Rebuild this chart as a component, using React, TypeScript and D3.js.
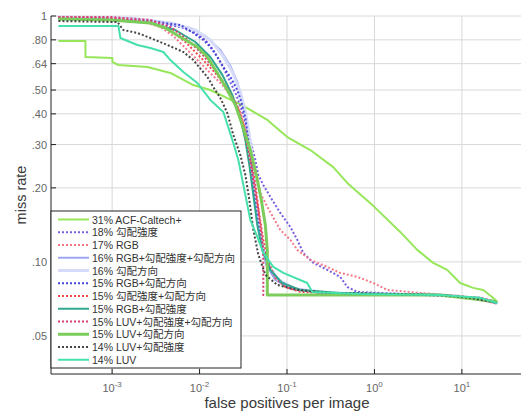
import React from "react";
import * as d3 from "d3";

const W = 521;
const H = 412;

const xTicks = [1e-3, 1e-2, 1e-1, 1, 10];
const xTickExps = ["-3", "-2", "-1", "0", "1"];
const yTicks = [0.05, 0.1, 0.2, 0.3, 0.4, 0.5, 0.64, 0.8, 1];
const yTickLabels = [".05", ".10", ".20", ".30", ".40", ".50", ".64", ".80", "1"];

const seriesNames = [
  "31% ACF-Caltech+",
  "18% 勾配強度",
  "17% RGB",
  "16% RGB+勾配強度+勾配方向",
  "16% 勾配方向",
  "15% RGB+勾配方向",
  "15% 勾配強度+勾配方向",
  "15% RGB+勾配強度",
  "15% LUV+勾配強度+勾配方向",
  "15% LUV+勾配方向",
  "14% LUV+勾配強度",
  "14% LUV",
];

type Pt = [number, number]; // [fppi, miss rate]

const acfCaltech: Pt[] = [
  [2.433e-4, 0.791], [4.954e-4, 0.791], [4.954e-4, 0.681], [1.008e-3, 0.675], [1.008e-3, 0.65],
  [1.18e-3, 0.632], [2.532e-3, 0.62], [4.637e-3, 0.5865], [8.49e-3, 0.524], [0.01328, 0.5],
  [0.02704, 0.443], [0.03807, 0.415], [0.05955, 0.378], [0.1008, 0.322], [0.1846, 0.285],
  [0.3381, 0.243], [0.4888, 0.2095], [0.969, 0.169], [1.972, 0.1324], [3.084, 0.1119],
  [4.699, 0.0991], [6.792, 0.0928], [9.563, 0.0821], [13.46, 0.0784], [17.52, 0.0769],
  [22.19, 0.072], [25.32, 0.0688],
];

const gradMag: Pt[] = [
  [2.433e-4, 0.9815], [7.35e-4, 0.972], [1.618e-3, 0.954], [3.565e-3, 0.928], [6.035e-3, 0.902],
  [8.95e-3, 0.853], [0.01165, 0.799], [0.01438, 0.727], [0.01729, 0.65], [0.02134, 0.56],
  [0.02634, 0.477], [0.03167, 0.396], [0.03807, 0.313], [0.04342, 0.26], [0.04699, 0.226],
  [0.05359, 0.2056], [0.06443, 0.1837], [0.08381, 0.1582], [0.1091, 0.1388], [0.1312, 0.1229],
  [0.1536, 0.1088], [0.1998, 0.0991], [0.2888, 0.0928], [0.4065, 0.0869], [0.4888, 0.0791],
  [0.6359, 0.0755], [1.972, 0.0741], [9.563, 0.0727], [16.19, 0.0701], [25.32, 0.0681],
];

const rgb: Pt[] = [
  [2.433e-4, 0.991], [7.35e-4, 0.9815], [2.106e-3, 0.954], [3.565e-3, 0.902], [5.018e-3, 0.829],
  [6.53e-3, 0.755], [8.49e-3, 0.688], [0.01105, 0.626], [0.01438, 0.57], [0.01871, 0.519],
  [0.02434, 0.4555], [0.02926, 0.407], [0.03338, 0.344], [0.03807, 0.2852], [0.04342, 0.2366],
  [0.04953, 0.1908], [0.05955, 0.1673], [0.08381, 0.1349], [0.1091, 0.1229], [0.1312, 0.1119],
  [0.1846, 0.1019], [0.2888, 0.0954], [0.4065, 0.0902], [0.6359, 0.0869], [0.9689, 0.0821],
  [1.401, 0.0769], [3.338, 0.0748], [9.563, 0.0727], [16.19, 0.0701], [25.32, 0.0675],
];

const rgbMagOri: Pt[] = [
  [2.433e-4, 0.991], [1.244e-3, 0.9815], [3.565e-3, 0.945], [7.85e-3, 0.894], [0.01165, 0.829],
  [0.01729, 0.727], [0.02249, 0.626], [0.02704, 0.539], [0.03167, 0.4345], [0.03519, 0.3605],
  [0.03807, 0.2852], [0.04119, 0.2154], [0.04457, 0.1627], [0.04953, 0.1229], [0.058, 0.0972],
  [0.07349, 0.0845], [0.1091, 0.0777], [0.2403, 0.0748], [5.649, 0.0734], [16.19, 0.0707],
  [25.32, 0.0681],
];

const gradOri: Pt[] = [
  [2.433e-4, 0.991], [1.618e-3, 0.9815], [4.637e-3, 0.937], [8.95e-3, 0.877], [0.01328, 0.799],
  [0.01823, 0.694], [0.02371, 0.592], [0.02926, 0.491], [0.03338, 0.407], [0.03708, 0.328],
  [0.04012, 0.26], [0.04342, 0.196], [0.04699, 0.148], [0.0522, 0.117], [0.06114, 0.0972],
  [0.07952, 0.0845], [0.1244, 0.0777], [0.3125, 0.0748], [5.649, 0.0734], [16.19, 0.0707],
  [25.32, 0.0681],
];

const rgbOri: Pt[] = [
  [2.433e-4, 0.9815], [9.56e-4, 0.972], [2.74e-3, 0.954], [6.035e-3, 0.919], [8.49e-3, 0.853],
  [0.01105, 0.799], [0.01328, 0.748], [0.01598, 0.681], [0.01871, 0.62], [0.02249, 0.565],
  [0.02704, 0.5], [0.03004, 0.447], [0.03338, 0.385], [0.03612, 0.313], [0.03908, 0.248],
  [0.04229, 0.187], [0.04699, 0.141], [0.05359, 0.112], [0.06443, 0.0928], [0.08381, 0.0829],
  [0.1244, 0.0777], [0.2403, 0.0748], [1.972, 0.0741], [16.19, 0.0714], [25.32, 0.0681],
];

const magOri: Pt[] = [
  [2.433e-4, 0.991], [9.56e-4, 0.9815], [2.74e-3, 0.945], [4.637e-3, 0.877], [6.88e-3, 0.784],
  [0.01021, 0.681], [0.01516, 0.5865], [0.02134, 0.5], [0.02776, 0.4226], [0.03338, 0.344],
  [0.03807, 0.272], [0.04342, 0.2056], [0.04824, 0.1552], [0.05359, 0.1229], [0.06114, 0.1],
  [0.07349, 0.0861], [0.09563, 0.0791], [0.1419, 0.0755], [0.5289, 0.0741], [5.649, 0.0734],
  [16.19, 0.0707], [25.32, 0.0681],
];

const rgbMag: Pt[] = [
  [2.433e-4, 0.972], [9.56e-4, 0.963], [2.74e-3, 0.937], [5.288e-3, 0.877], [8.95e-3, 0.784],
  [0.01328, 0.681], [0.01823, 0.576], [0.02371, 0.477], [0.02926, 0.385], [0.03338, 0.313],
  [0.03708, 0.248], [0.04119, 0.187], [0.04577, 0.141], [0.0522, 0.112], [0.06443, 0.0928],
  [0.08836, 0.0821], [0.1419, 0.0769], [0.4065, 0.0748], [5.649, 0.0734], [16.19, 0.0707],
  [25.32, 0.0681],
];

const luvMagOri: Pt[] = [
  [2.433e-4, 0.991], [9.56e-4, 0.991], [2.74e-3, 0.963], [4.637e-3, 0.902], [6.88e-3, 0.814],
  [0.01021, 0.714], [0.01438, 0.615], [0.01972, 0.524], [0.02566, 0.443], [0.03084, 0.3605],
  [0.03612, 0.2852], [0.04119, 0.2154], [0.04699, 0.1627], [0.0522, 0.1229], [0.05359, 0.1019],
  [0.05359, 0.0734], [5.649, 0.0734], [16.19, 0.0714], [25.32, 0.0688],
];

const luvOri: Pt[] = [
  [2.433e-4, 0.972], [9.56e-4, 0.963], [2.74e-3, 0.937], [4.065e-3, 0.894], [6.035e-3, 0.8215],
  [9.44e-3, 0.748], [0.01228, 0.681], [0.01598, 0.5865], [0.02078, 0.5], [0.02566, 0.4345],
  [0.03084, 0.3605], [0.03807, 0.2852], [0.04457, 0.2258], [0.05084, 0.1786], [0.05649, 0.1414],
  [0.05955, 0.1119], [0.05955, 0.0734], [5.649, 0.0734], [25.32, 0.0688],
];

const luvMag: Pt[] = [
  [2.433e-4, 0.954], [1.15e-3, 0.945], [1.346e-3, 0.877], [1.946e-3, 0.853], [2.74e-3, 0.814],
  [4.285e-3, 0.762], [6.53e-3, 0.714], [8.49e-3, 0.662], [0.01228, 0.565], [0.01438, 0.514],
  [0.01729, 0.464], [0.02078, 0.403], [0.02434, 0.328], [0.02926, 0.272], [0.03338, 0.226],
  [0.03708, 0.179], [0.04119, 0.135], [0.04699, 0.107], [0.05649, 0.0886], [0.07745, 0.0806],
  [0.1312, 0.0769], [0.3125, 0.0748], [5.649, 0.0734], [12.44, 0.0714], [25.32, 0.0681],
];

const luv: Pt[] = [
  [2.433e-4, 0.911], [1.18e-3, 0.911], [1.244e-3, 0.814], [1.946e-3, 0.762], [2.74e-3, 0.741],
  [3.857e-3, 0.714], [4.637e-3, 0.662], [6.53e-3, 0.592], [9.44e-3, 0.534], [0.01328, 0.4555],
  [0.01871, 0.407], [0.02434, 0.3046], [0.02776, 0.2598], [0.03167, 0.2056], [0.03807, 0.1482],
  [0.04577, 0.1264], [0.05359, 0.1088], [0.06973, 0.0954], [0.09071, 0.0902], [0.1706, 0.0821],
  [0.1946, 0.0755], [0.6882, 0.0741], [5.649, 0.0734], [16.19, 0.0714], [25.32, 0.0681],
];

const seriesData: Pt[][] = [
  acfCaltech, gradMag, rgb, rgbMagOri, gradOri, rgbOri, magOri, rgbMag, luvMagOri, luvOri, luvMag, luv,
];

const seriesColors = [
  "#96e65a", "#7a5ce0", "#f27a8a", "#9ea6f2", "#d6dbfa", "#4848d8",
  "#f04848", "#30a890", "#d8406e", "#7ccc5c", "#444444", "#46e0aa",
];
const seriesDotted = [false, true, true, false, false, true, true, false, true, false, true, false];
const seriesWidths = [2, 2, 2, 2, 3, 2, 2, 2, 2, 3, 2, 2];

const FONT = "'Liberation Sans', Arial, 'Noto Sans CJK JP', sans-serif";

export default function App() {
  const left = 51, right = 523, top = 16, bottom = 374;
  const x = d3.scaleLog().domain([2e-4, 50]).range([left, right]);
  const y = d3.scaleLog().domain([0.035, 1]).range([bottom, top]);
  const line = d3
    .line<Pt>()
    .x((d) => x(d[0]))
    .y((d) => y(d[1]));

  const legX = 51, legY = 211, legW = 190, legH = 157;
  const rowY = (i: number) => 219.5 + i * 12.75;

  return (
    <svg
      width={W}
      height={H}
      style={{ position: "absolute", left: 0, top: 0, display: "block", background: "#fff" }}
      fontFamily={FONT}
    >
      <rect x={0} y={0} width={W} height={H} fill="#fff" />
      <defs>
        <clipPath id="plotclip">
          <rect x={left} y={top - 3} width={right - left} height={bottom - top + 3} />
        </clipPath>
      </defs>
      {xTicks.map((t, i) => (
        <line key={"gx" + i} x1={x(t)} x2={x(t)} y1={top} y2={bottom} stroke="#d8d8d8" strokeWidth={1} />
      ))}
      {yTicks.map((t, i) => (
        <line key={"gy" + i} x1={left} x2={W} y1={y(t)} y2={y(t)} stroke="#d8d8d8" strokeWidth={1} />
      ))}
      <g clipPath="url(#plotclip)">
        {seriesData.map((d, i) => (
          <path
            key={"s" + i}
            d={line(d) || ""}
            fill="none"
            stroke={seriesColors[i]}
            strokeWidth={seriesWidths[i]}
            strokeDasharray={seriesDotted[i] ? "2 2" : undefined}
            strokeLinejoin="round"
          />
        ))}
      </g>
      <line x1={left} x2={left} y1={top} y2={bottom} stroke="#222" strokeWidth={1} />
      <line x1={left} x2={W} y1={bottom} y2={bottom} stroke="#222" strokeWidth={1} />
      {xTicks.map((t, i) => (
        <line key={"tx" + i} x1={x(t)} x2={x(t)} y1={bottom} y2={bottom - 5} stroke="#222" strokeWidth={1} />
      ))}
      {yTicks.map((t, i) => (
        <line key={"ty" + i} x1={left} x2={left + 5} y1={y(t)} y2={y(t)} stroke="#222" strokeWidth={1} />
      ))}
      {xTicks.map((t, i) => (
        <text key={"lx" + i} x={x(t)} y={392} textAnchor="middle" fontSize={11} fill="#666">
          10
          <tspan dy={-5} fontSize={8}>
            {xTickExps[i]}
          </tspan>
        </text>
      ))}
      {yTicks.map((t, i) => (
        <text key={"ly" + i} x={47} y={y(t) + 4} textAnchor="end" fontSize={11} fill="#666">
          {yTickLabels[i]}
        </text>
      ))}
      <text x={287} y={408} textAnchor="middle" fontSize={15} fill="#3a3a3a">
        false positives per image
      </text>
      <text
        transform={`translate(26,195) rotate(-90)`}
        textAnchor="middle"
        fontSize={14.5}
        fill="#3a3a3a"
      >
        miss rate
      </text>
      <rect x={legX} y={legY} width={legW} height={legH} fill="#fff" stroke="#222" strokeWidth={1} />
      {seriesNames.map((n, i) => (
        <g key={"lg" + i}>
          <line
            x1={58}
            x2={89}
            y1={rowY(i)}
            y2={rowY(i)}
            stroke={seriesColors[i]}
            strokeWidth={seriesWidths[i]}
            strokeDasharray={seriesDotted[i] ? "2 2" : undefined}
          />
          <text x={92} y={rowY(i) + 4} fontSize={10.5} fill="#333">
            {n}
          </text>
        </g>
      ))}
    </svg>
  );
}
